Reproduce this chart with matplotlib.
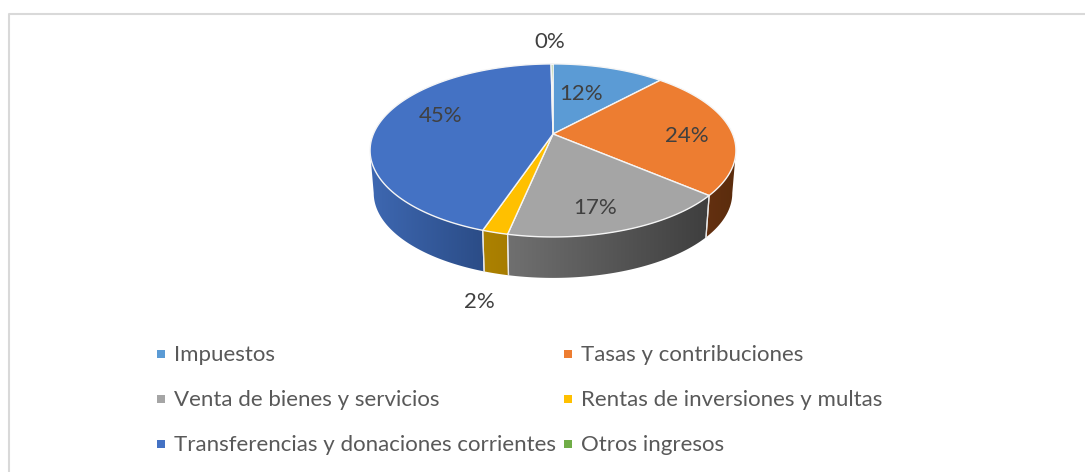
import numpy as np
import matplotlib
matplotlib.use("Agg")
import matplotlib.pyplot as plt
from matplotlib.patches import Polygon
from matplotlib.colors import to_rgb

# data
categories = ["Impuestos", "Tasas y contribuciones", "Venta de bienes y servicios",
              "Rentas de inversiones y multas", "Transferencias y donaciones corrientes", "Otros ingresos"]
shares = [11.9, 24.3, 17.1, 1.9, 44.6, 0.2]

top_colors = ["#5B9BD5", "#ED7D31", "#A5A5A5", "#FFC000", "#4472C4", "#70AD47"]
wall_left = ["#5B9BD5", "#643010", "#707070", "#AD8200", "#3E68B2", "#70AD47"]
wall_right = ["#5B9BD5", "#5A2C0D", "#3E3E3E", "#A67C00", "#2B4C86", "#70AD47"]

# label positions in pixels
label_xy = [(581, 94.5), (687, 136.5), (595, 208.5), (479, 301.5), (441, 116.5), (550, 41.5)]
legend_xy = [(161, 354), (568, 354), (161, 399), (568, 399), (161, 444), (568, 444)]

plt.rcParams['font.family'] = ['Lato', 'DejaVu Sans']

# pie geometry in pixels, perspective tilt p
cx, cy = 553, 134
a, b, p = 179.6, 83.4, 0.19
shrink, depth = 0.98, 43


def rim(theta, lower=False):
    u, v = np.sin(theta), np.cos(theta)
    w = 1 + p*v
    x, y = a*u/w, -b*v/w
    if lower:
        return cx + shrink*x, cy + shrink*y + depth
    return cx + x, cy + y


fig = plt.figure(figsize=(10.85, 4.72), dpi=100)
ax = fig.add_axes([0, 0, 1, 1])
ax.axis('off')

# chart frame, open on the right and at the bottom
ax.plot([8.5, 8.5, 1085], [472, 14, 14], color="#D9D9D9", lw=1.5)

edges = np.radians(np.concatenate([[0], np.cumsum(shares)]) * 3.6)

# walls run between the two points where the rim turns back
t_right = np.arccos(-p)
t_left = 2*np.pi - t_right

for i in range(len(shares)):
    t0, t1 = max(edges[i], t_right), min(edges[i+1], t_left)
    if t1 <= t0:
        continue
    ts = np.linspace(t0, t1, 80)
    xt, yt = rim(ts)
    xb, yb = rim(ts, lower=True)
    wall = Polygon(np.c_[np.r_[xt, xb[::-1]], np.r_[yt, yb[::-1]]], closed=True, transform=ax.transData,
                   facecolor='none', edgecolor='none')
    ax.add_patch(wall)
    c0, c1 = np.array(to_rgb(wall_left[i])), np.array(to_rgb(wall_right[i]))
    f = np.linspace(0, 1, 256)[None, :, None]
    grad = c0 + (c1-c0)*f
    extent = [min(xt.min(), xb.min())-1, max(xt.max(), xb.max())+1, max(yt.max(), yb.max())+1, min(yt.min(), yb.min())-1]
    im = ax.imshow(grad, extent=extent, aspect='auto', zorder=2, interpolation='bilinear')
    im.set_clip_path(wall)
    for t in (t0, t1):
        if t_right < t < t_left:
            x0, y0 = rim(t)
            x1, y1 = rim(t, lower=True)
            ax.plot([x0, x1], [y0, y1], color="#E8E8E8", lw=0.9, zorder=3)

# top face
for i in range(len(shares)):
    ts = np.linspace(edges[i], edges[i+1], 120)
    x, y = rim(ts)
    ax.fill(np.r_[cx, x], np.r_[cy, y], facecolor=top_colors[i], edgecolor="#F5F5F5", lw=1, zorder=4)

# data labels
for s, (x, y) in zip(shares, label_xy):
    ax.text(x, y, "{0:.0f}%".format(s), fontsize=16, color="#404040", ha='center', va='center', zorder=5)

# legend
for name, col, (x, y) in zip(categories, top_colors, legend_xy):
    ax.scatter([x], [y], marker='s', s=36, color=col, linewidths=0, zorder=5)
    ax.text(x+13, y+1, name, fontsize=16, color="#595959", ha='left', va='center', zorder=5)

ax.set_xlim(0, 1085)
ax.set_ylim(472, 0)

fig.savefig("out.png", dpi=100)
